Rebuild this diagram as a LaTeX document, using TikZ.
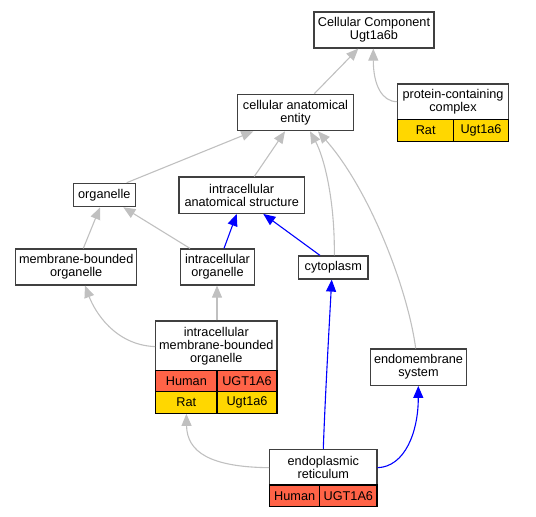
\documentclass[tikz,border=0pt]{standalone}
\usepackage{fontspec}
\setmainfont{Liberation Sans}
\usetikzlibrary{arrows.meta}
\definecolor{edgegray}{HTML}{C0C0C0}
\definecolor{boxline}{HTML}{404040}
\definecolor{human}{HTML}{FF6347}
\definecolor{rat}{HTML}{FFD700}
\begin{document}
\begin{tikzpicture}[x=1pt,y=-1pt,
  every node/.style={font=\fontsize{12.7}{13}\selectfont, inner sep=0pt, align=center},
  term/.style={draw=boxline, line width=1.2pt, fill=white},
  cell/.style={draw=black, line width=1.1pt},
  hum/.style={cell, fill=human},
  ratc/.style={cell, fill=rat},
  isa/.style={draw=edgegray, line width=1.1pt, -{Triangle[length=12pt,width=10pt]}},
  partof/.style={draw=blue, line width=1.1pt, -{Triangle[length=12pt,width=10pt]}},
]
\useasboundingbox (0,0) rectangle (536,517);

% nodes
\node[term, minimum width=120pt, minimum height=36pt] (cc) at (374,30) {Cellular Component\\Ugt1a6b};

\node[term, minimum width=110.6pt, minimum height=35.3pt] (pcc) at (453,101.7) {protein-containing\\complex};
\node[ratc, minimum width=56pt, minimum height=22pt] (pccrat) at (425.7,130.3) {Rat};
\node[ratc, minimum width=54.6pt, minimum height=22pt] (pccgene) at (481,130.3) {Ugt1a6};

\node[term, minimum width=115.6pt, minimum height=36.4pt] (cae) at (295.5,112.5) {cellular anatomical\\entity};
\node[term, minimum width=62pt, minimum height=23.4pt] (org) at (104.3,195) {organelle};
\node[term, minimum width=125.3pt, minimum height=36.3pt] (ias) at (241.7,195.2) {intracellular\\anatomical structure};
\node[term, minimum width=121pt, minimum height=36pt] (mbo) at (76.2,267) {membrane-bounded\\organelle};
\node[term, minimum width=74.4pt, minimum height=36pt] (io) at (217.5,267) {intracellular\\organelle};
\node[term, minimum width=69.3pt, minimum height=23pt] (cyto) at (333.3,267.5) {cytoplasm};

\node[term, minimum width=121.3pt, minimum height=49.7pt] (imbo) at (216.3,345.8) {intracellular\\membrane-bounded\\organelle};
\node[hum, minimum width=61.3pt, minimum height=21pt] (imbohum) at (186.35,381.2) {Human};
\node[hum, minimum width=60pt, minimum height=21pt] (imbohgene) at (247,381.2) {UGT1A6};
\node[ratc, minimum width=61.3pt, minimum height=21.6pt] (imborat) at (186.35,402.5) {Rat};
\node[ratc, minimum width=60pt, minimum height=21.6pt] (imborgene) at (247,402.5) {Ugt1a6};

\node[term, minimum width=96.4pt, minimum height=36.3pt] (ems) at (418.5,367.2) {endomembrane\\system};

\node[term, minimum width=107.3pt, minimum height=35.7pt] (er) at (323.3,467.2) {endoplasmic\\reticulum};
\node[hum, minimum width=50pt, minimum height=21.7pt] (erhum) at (294.7,495.85) {Human};
\node[hum, minimum width=57.3pt, minimum height=21.7pt] (ergene) at (348.35,495.85) {UGT1A6};

% edges
\draw[isa] ([xshift=18.8pt]cae.north) -- ([xshift=-15.7pt]cc.south);
\draw[isa] (pcc.west) .. controls (382,101.7) and (373.3,85) .. ([xshift=-0.7pt]cc.south);
\draw[isa] ([xshift=22.4pt]org.north) -- ([xshift=-42.2pt]cae.south);
\draw[isa] ([xshift=12.6pt]ias.north) -- ([xshift=-10.5pt]cae.south);
\draw[isa] ([xshift=1pt]cyto.north) .. controls (335,200) and (324,157) .. ([xshift=14.5pt]cae.south);
\draw[isa] ([xshift=-2.8pt]ems.north) .. controls (408,290) and (370,190) .. ([xshift=22.5pt]cae.south);
\draw[isa] ([xshift=7.1pt]mbo.north) -- ([xshift=-4.3pt]org.south);
\draw[isa] ([xshift=-27.5pt]io.north) -- ([xshift=19pt]org.south);
\draw[partof] ([xshift=6.5pt]io.north) -- ([xshift=-5pt]ias.south);
\draw[partof] ([xshift=-13.3pt]cyto.north) -- ([xshift=21.6pt]ias.south);
\draw[isa] ([yshift=-0.8pt]imbo.west) .. controls (115,345) and (95,312) .. ([xshift=8.8pt]mbo.south);
\draw[isa] ([xshift=0.7pt]imbo.north) -- ([xshift=-0.5pt]io.south);
\draw[isa] ([yshift=-0.5pt]er.west) .. controls (210,467) and (187,452) .. (imborat.south);
\draw[partof] (er.north) .. controls (325,400) and (329,330) .. ([xshift=-1.6pt]cyto.south);
\draw[partof] ([yshift=-0.5pt]er.east) .. controls (405,466.7) and (418.3,432) .. ([xshift=-0.2pt]ems.south);
\end{tikzpicture}
\end{document}
